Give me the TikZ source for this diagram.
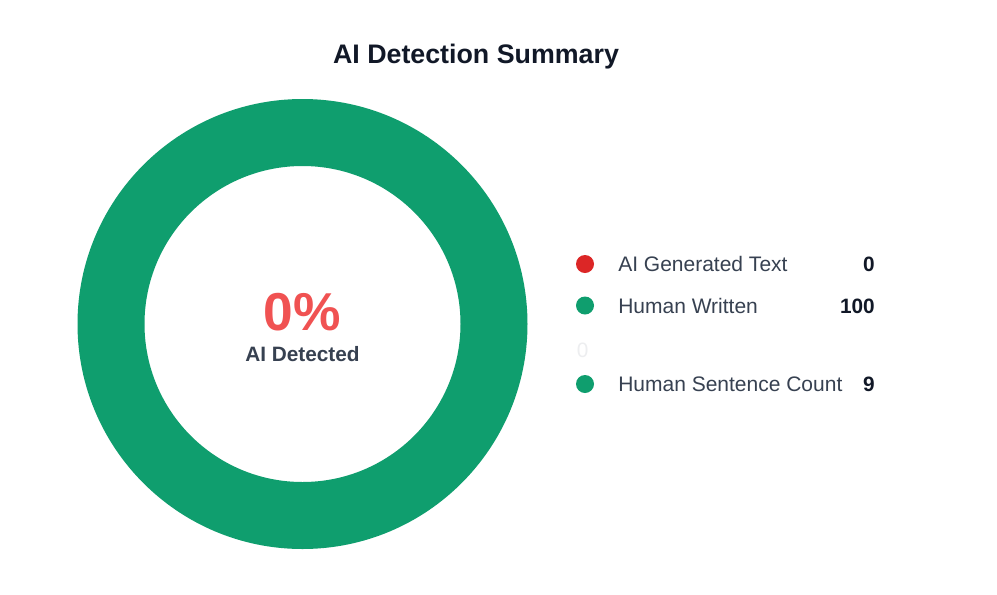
\documentclass[tikz,border=0pt]{standalone}
\usepackage{fontspec}
\setmainfont{Liberation Sans}
\definecolor{ringgreen}{HTML}{0F9E6E}
\definecolor{dotred}{HTML}{DC2626}
\definecolor{pctred}{HTML}{F05252}
\definecolor{labgray}{HTML}{374151}
\definecolor{titlecol}{HTML}{111827}
\definecolor{faint}{HTML}{EDEEF0}
\tikzset{
  legtext/.style={anchor=base west, inner sep=0pt, text=labgray, font=\fontsize{15.75}{18}\selectfont},
  legval/.style={anchor=base east, inner sep=0pt, text=titlecol, font=\fontsize{15.6}{18}\selectfont\bfseries},
  legdot/.style={circle, minimum size=13.5pt, inner sep=0pt}
}
\begin{document}
\begin{tikzpicture}[x=0.75pt, y=-0.75pt]
\useasboundingbox (0,0) rectangle (997,594);
\fill[white] (0,0) rectangle (997,594);
% title
\node[anchor=base, inner sep=0pt, text=titlecol, font=\fontsize{20.1}{24}\selectfont\bfseries] (title) at (476,63) {AI Detection Summary};
% donut
\coordinate (c) at (302.5,324);
\fill[ringgreen, even odd rule] (c) circle[radius=225] (c) circle[radius=158];
\node[anchor=base, inner sep=0pt, text=pctred, font=\fontsize{40}{44}\selectfont\bfseries] (pct) at (302.5,330) {0\%};
\node[anchor=base, inner sep=0pt, text=labgray, font=\fontsize{15.6}{18}\selectfont\bfseries] (det) at (302.5,361) {AI Detected};
% legend
\node[legdot, fill=dotred] (d1) at (585,264) {};
\node[legtext] (t1) at (618,271) {AI Generated Text};
\node[legval] (v1) at (875,271) {0};
\node[legdot, fill=ringgreen] (d2) at (585,305.5) {};
\node[legtext] (t2) at (618,313) {Human Written};
\node[legval] (v2) at (875,313) {100};
\node[anchor=base west, inner sep=0pt, text=faint, font=\fontsize{15.6}{18}\selectfont] (f0) at (576.5,357) {0};
\node[legdot, fill=ringgreen] (d3) at (585,384) {};
\node[legtext] (t3) at (618,391) {Human Sentence Count};
\node[legval] (v3) at (875,391) {9};
\end{tikzpicture}
\end{document}
